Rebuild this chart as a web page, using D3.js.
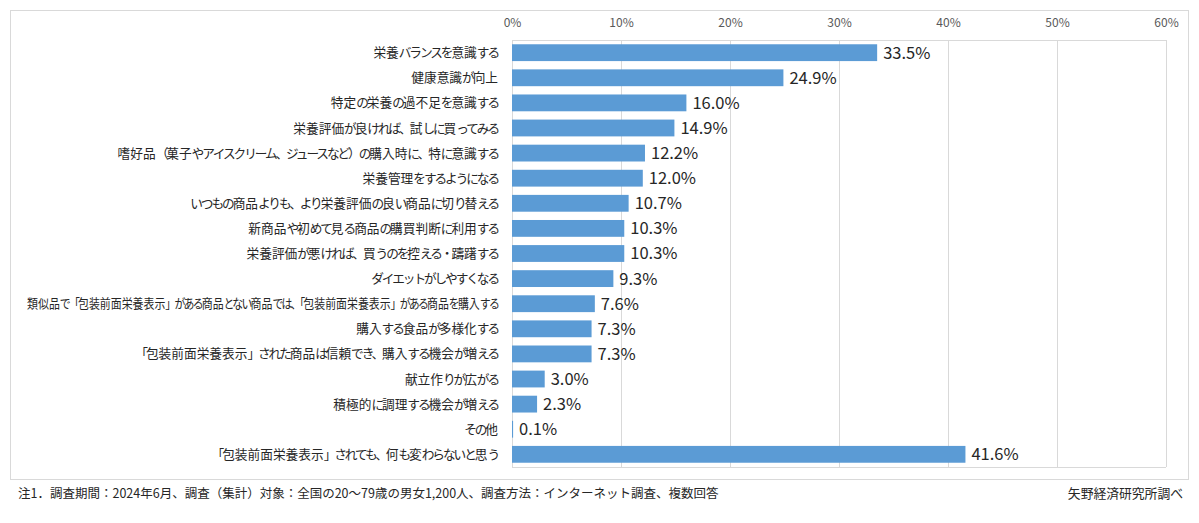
<!DOCTYPE html>
<html><head><meta charset="utf-8">
<script src="https://cdn.jsdelivr.net/npm/d3@7"></script>
<style>
body{margin:0;background:#fff;}
text{font-family:"Noto Sans CJK JP","Noto Sans",sans-serif;}
tspan.kana{letter-spacing:-2.1px;}
</style></head><body>
<svg id="c" width="1199" height="523"></svg>
<script>
const categories = [
 "栄養バランスを意識する",
 "健康意識が向上",
 "特定の栄養の過不足を意識する",
 "栄養評価が良ければ、試しに買ってみる",
 "嗜好品（菓子やアイスクリーム、ジュースなど）の購入時に、特に意識する",
 "栄養管理をするようになる",
 "いつもの商品よりも、より栄養評価の良い商品に切り替える",
 "新商品や初めて見る商品の購買判断に利用する",
 "栄養評価が悪ければ、買うのを控える・躊躇する",
 "ダイエットがしやすくなる",
 "類似品で「包装前面栄養表示」がある商品とない商品では、「包装前面栄養表示」がある商品を購入する",
 "購入する食品が多様化する",
 "「包装前面栄養表示」された商品は信頼でき、購入する機会が増える",
 "献立作りが広がる",
 "積極的に調理する機会が増える",
 "その他",
 "「包装前面栄養表示」されても、何も変わらないと思う"
];
const values = [33.5,24.9,16.0,14.9,12.2,12.0,10.7,10.3,10.3,9.3,7.6,7.3,7.3,3.0,2.3,0.1,41.6];
const tickValues = [0,10,20,30,40,50,60];
const note = "注1．調査期間：2024年6月、調査（集計）対象：全国の20～79歳の男女1,200人、調査方法：インターネット調査、複数回答";
const source = "矢野経済研究所調べ";

const svg = d3.select("#c");
const plot = {left:512, right:1166, top:40, bottom:467};
const x = d3.scaleLinear().domain([0,60]).range([plot.left, plot.right]);
const y = d3.scaleBand().domain(categories).range([plot.top, plot.bottom]).paddingInner(0.33).paddingOuter(0.17);

// outer frame
svg.append("rect").attr("x",10.5).attr("y",10.5).attr("width",1178).attr("height",469)
  .attr("fill","#fff").attr("stroke","#d9d9d9");

// gridlines
svg.append("g").selectAll("line").data(tickValues).join("line")
  .attr("x1",d=>Math.round(x(d))+0.5).attr("x2",d=>Math.round(x(d))+0.5)
  .attr("y1",plot.top).attr("y2",plot.bottom)
  .attr("stroke","#d9d9d9");
svg.append("line").attr("x1",plot.left).attr("x2",plot.right).attr("y1",plot.top+0.5).attr("y2",plot.top+0.5).attr("stroke","#d9d9d9");
svg.append("line").attr("x1",plot.left).attr("x2",plot.right).attr("y1",plot.bottom+0.5).attr("y2",plot.bottom+0.5).attr("stroke","#d9d9d9");

// top axis labels
const ax = d3.axisTop(x).tickValues(tickValues).tickFormat(d=>d+"%").tickSize(0).tickPadding(0);
const gA = svg.append("g").attr("transform","translate(0,27)").call(ax);
gA.select(".domain").remove();
gA.selectAll("text").attr("fill","#595959").attr("font-size","12px")
  .style("font-family","'Noto Sans CJK JP',sans-serif");

// bars
svg.append("g").selectAll("rect").data(values).join("rect")
  .attr("x",x(0)).attr("y",(d,i)=>y(categories[i]))
  .attr("width",d=>x(d)-x(0)).attr("height",y.bandwidth())
  .attr("fill","#5b9bd5");

// category labels: kanji full width, kana/punctuation tighter (like the original UI font)
const maxW = plot.left - 14 - 27;
const gY = svg.append("g");
gY.selectAll("text").data(categories).join("text")
  .attr("dy","0.36em").attr("text-anchor","end")
  .attr("font-size","12.7px").attr("fill","#262626")
  .each(function(d){
    const t = d3.select(this);
    d.split(/([\u4e00-\u9fff々]+)/).filter(s=>s.length).forEach(s=>{
      t.append("tspan").attr("class", /^[\u4e00-\u9fff々]+$/.test(s) ? null : "kana").text(s);
    });
    const w = this.getComputedTextLength();
    const s = Math.min(1, maxW / w);
    t.attr("transform",`translate(${plot.left-14},${y(d)+y.bandwidth()/2}) scale(${s},1)`);
  });

// value labels
svg.append("g").selectAll("text").data(values).join("text")
  .attr("x",d=>x(d)+6).attr("y",(d,i)=>y(categories[i])+y.bandwidth()/2)
  .attr("dy","0.36em").attr("font-size","16.5px").attr("fill","#262626")
  .text(d=>d.toFixed(1)+"%");

// footnotes
svg.append("text").attr("x",18).attr("y",498).attr("font-size","12.5px").attr("fill","#262626").text(note);
svg.append("text").attr("x",1183).attr("y",498).attr("text-anchor","end").attr("font-size","12.8px").attr("fill","#262626").text(source);
</script></body></html>
